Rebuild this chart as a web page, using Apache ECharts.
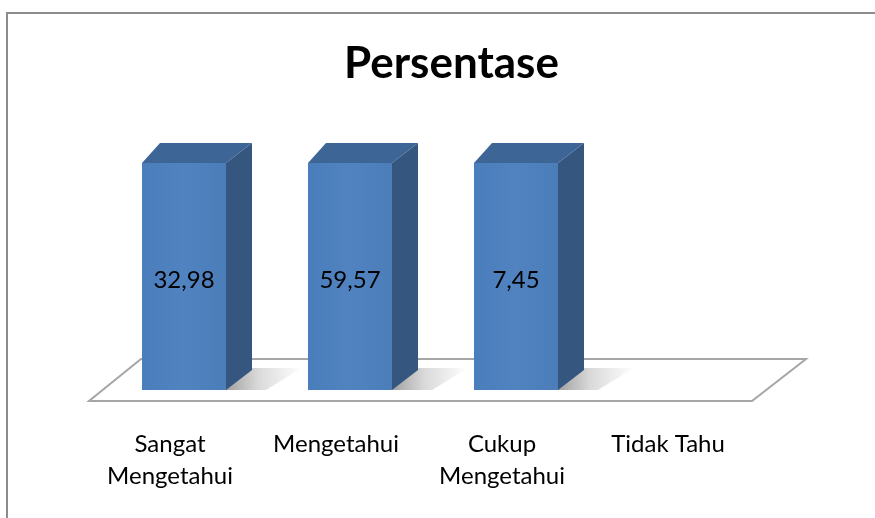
<!DOCTYPE html>
<html>
<head>
<meta charset="utf-8">
<title>Persentase</title>
<script src="https://cdn.jsdelivr.net/npm/echarts@6/dist/echarts.min.js"></script>
<style>
  html, body { margin: 0; padding: 0; background: #fff; }
  #chart { width: 875px; height: 518px; }
</style>
</head>
<body>
<div id="chart"></div>
<script>
  var categories = ['Sangat\nMengetahui', 'Mengetahui', 'Cukup\nMengetahui', 'Tidak Tahu'];
  var values = [32.98, 59.57, 7.45, null];
  var labels = ['32,98', '59,57', '7,45', ''];
  // sumbu tegak dipotong seperti di gambar asli: semua batang mentok di atas
  var yMax = 7.45;

  var myChart = echarts.init(document.getElementById('chart'));

  var data = [];
  for (let i = 0; i < values.length; i++) {
    if (values[i] != null) data.push([i, values[i], labels[i]]);
  }

  function renderBar(params, api) {
    var v = Math.min(api.value(1), yMax);
    var base = api.coord([api.value(0), 0]);
    var top = api.coord([api.value(0), v]);
    var w = api.size([1, 0])[0] * 0.506;
    var x0 = base[0] - w / 2, x1 = base[0] + w / 2;
    var by = base[1], ty = top[1];
    var dx = 26, dxl = 18, dy = 20;
    return {
      type: 'group',
      children: [
        {
          // bayangan di lantai
          type: 'polygon',
          shape: { points: [[x1 - 4, by], [x1 + dx, by - dy - 2], [x1 + dx + 50, by - dy - 2], [x1 + 40, by]] },
          style: {
            fill: new echarts.graphic.LinearGradient(0, 0, 1, 0, [
              { offset: 0, color: 'rgba(0,0,0,0.4)' },
              { offset: 0.45, color: 'rgba(0,0,0,0.15)' },
              { offset: 1, color: 'rgba(0,0,0,0)' }
            ])
          }
        },
        {
          type: 'polygon',
          shape: { points: [[x1, ty], [x1, by], [x1 + dx, by - dy], [x1 + dx, ty - dy]] },
          style: { fill: '#34567f' }
        },
        {
          type: 'polygon',
          shape: { points: [[x0, ty], [x1, ty], [x1 + dx, ty - dy], [x0 + dxl, ty - dy]] },
          style: { fill: '#3d6696' }
        },
        {
          type: 'rect',
          shape: { x: x0, y: ty, width: w, height: by - ty },
          style: {
            fill: new echarts.graphic.LinearGradient(0, 0, 1, 0, [
              { offset: 0, color: '#4a7dbb' },
              { offset: 0.5, color: '#5083c0' },
              { offset: 1, color: '#4b7db9' }
            ])
          }
        },
        {
          type: 'text',
          style: {
            text: api.value(2),
            x: base[0],
            y: (by + ty) / 2 + 4,
            align: 'center',
            verticalAlign: 'middle',
            fill: '#000',
            font: '24px Lato, sans-serif'
          }
        }
      ]
    };
  }

  var option = {
    animation: false,
    title: {
      text: 'Persentase',
      left: 339,
      top: 37,
      textStyle: { fontFamily: 'Lato', fontWeight: 'bold', fontSize: 44, color: '#000' }
    },
    grid: { left: 101, right: 110, top: 163, bottom: 128 },
    xAxis: {
      type: 'category',
      data: categories,
      axisLine: { show: false },
      axisTick: { show: false },
      axisLabel: {
        interval: 0,
        margin: 38,
        padding: [0, 28, 0, 0],
        lineHeight: 32,
        fontFamily: 'Lato',
        fontSize: 24,
        color: '#000'
      }
    },
    yAxis: { type: 'value', min: 0, max: yMax, show: false },
    graphic: [
      {
        type: 'rect',
        z: -10,
        shape: { x: 7, y: 13, width: 900, height: 600 },
        style: { fill: '#fff', stroke: '#8c8c8c', lineWidth: 2 }
      },
      {
        type: 'polygon',
        z: -5,
        shape: { points: [[141, 359], [806, 359], [752, 401], [89, 401]] },
        style: { fill: '#fff', stroke: '#a6a6a6', lineWidth: 2 }
      }
    ],
    series: [{
      type: 'custom',
      renderItem: renderBar,
      encode: { x: 0, y: 1 },
      data: data,
      clip: false
    }]
  };
  myChart.setOption(option);
</script>
</body>
</html>
